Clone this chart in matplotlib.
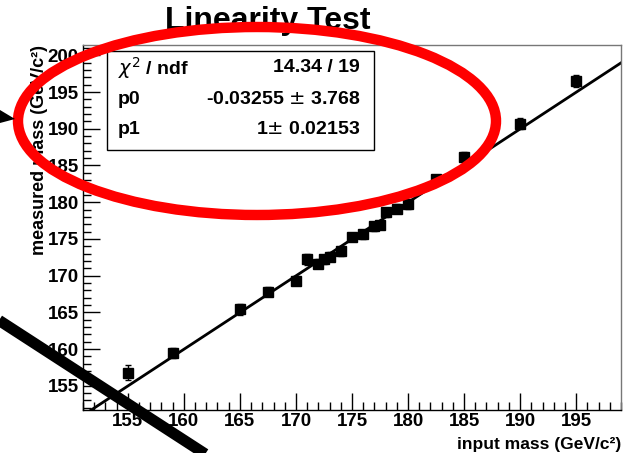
import matplotlib
matplotlib.use("Agg")
import matplotlib.pyplot as plt
from matplotlib.patches import Ellipse, Polygon, Rectangle
from matplotlib.lines import Line2D
from matplotlib.ticker import MultipleLocator
import numpy as np

plt.rcParams['font.family'] = ['Liberation Sans', 'DejaVu Sans']

# Input vs. measured top mass points
input_mass = [155, 159, 165, 167.5, 170, 171, 172, 172.5, 173, 174, 175,
              176, 177, 177.5, 178, 179, 180, 182.5, 185, 190, 195]
measured_mass = [156.8, 159.5, 165.4, 167.8, 169.3, 172.2, 171.6, 172.2,
                 172.6, 173.3, 175.2, 175.6, 176.7, 176.9, 178.6, 179.1,
                 179.7, 183.1, 186.2, 190.7, 196.5]
measured_err = [1.0, 0.7, 0.7, 0.6, 0.6, 0.7, 0.6, 0.6, 0.6, 0.6, 0.5,
                0.6, 0.6, 0.6, 0.6, 0.6, 0.6, 0.6, 0.6, 0.7, 0.8]

# Fit result
p0, p0_err = -0.03255, 3.768
p1, p1_err = 1.0, 0.02153
chi2, ndf = 14.34, 19

W, H = 630, 453
fig = plt.figure(figsize=(W / 100, H / 100), dpi=100)

def fx(px):
    return px / W

def fy(py):
    return 1 - py / H

ax = fig.add_axes([fx(83), fy(410), fx(621) - fx(83), fy(45) - fy(410)])
ax.set_xlim(151.0, 199.0)
ax.set_ylim(151.7, 201.4)

ax.errorbar(input_mass, measured_mass, yerr=measured_err, fmt='s',
            color='black', ms=7, elinewidth=1, capsize=2.5, capthick=1, zorder=3)

xf = np.array(ax.get_xlim())
ax.plot(xf, p0 + p1 * xf, color='black', lw=2, zorder=2)

ax.xaxis.set_major_locator(MultipleLocator(5))
ax.xaxis.set_minor_locator(MultipleLocator(1))
ax.yaxis.set_major_locator(MultipleLocator(5))
ax.yaxis.set_minor_locator(MultipleLocator(1))
ax.tick_params(which='both', direction='in', top=False, right=False,
               width=1, color='black')
ax.tick_params(which='major', length=12, labelsize=13.5)
ax.tick_params(axis='x', which='major', pad=2)
ax.tick_params(axis='y', which='major', pad=3)
ax.tick_params(which='minor', length=6)
for lab in ax.get_xticklabels() + ax.get_yticklabels():
    lab.set_fontweight('bold')
for s in ['top', 'right']:
    ax.spines[s].set_color('#777777')
for s in ax.spines.values():
    s.set_linewidth(1)

fig.text(fx(621), fy(452), 'input mass (GeV/c²)', ha='right',
         va='bottom', fontsize=12.5, fontweight='bold')
fig.text(fx(40), fy(45), 'measured mass (GeV/c²)', ha='center',
         va='top', rotation=90, fontsize=13, fontweight='bold')
fig.text(fx(268), fy(21), 'Linearity Test', ha='center', va='center',
         fontsize=23, fontweight='bold')

# Statistics box
bx0, by0, bx1, by1 = 107, 51, 374, 150
fig.patches.append(Rectangle((fx(bx0), fy(by1)), fx(bx1) - fx(bx0),
                             fy(by0) - fy(by1), transform=fig.transFigure,
                             facecolor='white', edgecolor='black', lw=1,
                             zorder=5))
rows = [(r'$\chi^2$ / ndf', f'{chi2:.2f} / {ndf}'),
        ('p0', f'{p0:.5f} $\\pm$ {p0_err:.3f}'),
        ('p1', f'{p1:g}$\\pm$ {p1_err:.5f}')]
for i, (name, val) in enumerate(rows):
    y = fy(68 + i * 31)
    fig.text(fx(118), y, name, ha='left', va='center', fontsize=14,
             fontweight='bold', zorder=6)
    fig.text(fx(360), y, val, ha='right', va='center', fontsize=14,
             fontweight='bold', zorder=6)

# Annotation overlays
fig.patches.append(Ellipse((fx(257), fy(121)), 478 / W, 188 / H,
                           transform=fig.transFigure, fill=False,
                           edgecolor='#ff0000', lw=7.5, zorder=10))
fig.lines.append(Line2D([fx(-10), fx(240)], [fy(321 - 6.5), fy(321 + 0.648 * 240)],
                        transform=fig.transFigure, color='black', lw=8,
                        solid_capstyle='butt', zorder=10))
fig.patches.append(Polygon([(fx(0), fy(110)), (fx(15), fy(119)), (fx(0), fy(123))],
                           closed=True, transform=fig.transFigure,
                           facecolor='black', edgecolor='none', zorder=10))

fig.savefig('out.png', dpi=100)
